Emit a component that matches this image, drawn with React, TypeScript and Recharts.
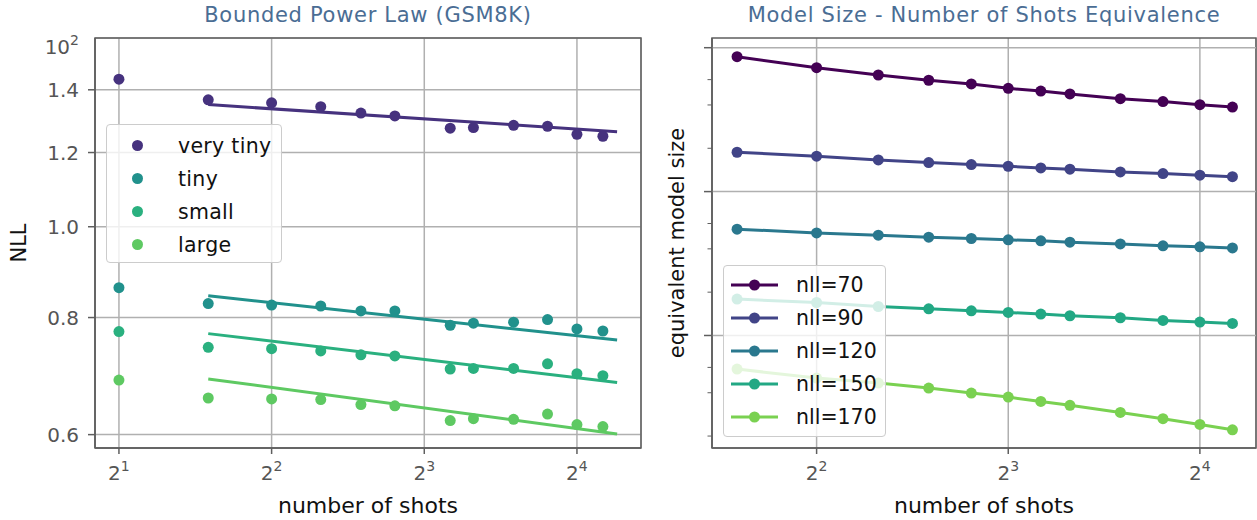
import React from 'react';
import {
  ComposedChart, Scatter, Line, XAxis, YAxis, CartesianGrid, ReferenceArea, ReferenceLine, Legend, Label,
} from 'recharts';

const FONT = '"DejaVu Sans", sans-serif';

// ---- left panel: bounded power law fit on GSM8K ----
const leftShots = [2, 3, 4, 5, 6, 7, 9, 10, 12, 14, 16, 18];
const veryTinyNll = [1.437, 1.366, 1.356, 1.343, 1.322, 1.313, 1.274, 1.276, 1.283, 1.28, 1.255, 1.249];
const tinyNll = [0.861, 0.828, 0.825, 0.823, 0.813, 0.813, 0.785, 0.789, 0.791, 0.796, 0.778, 0.774];
const smallNll = [0.773, 0.7435, 0.741, 0.737, 0.73, 0.728, 0.705, 0.706, 0.706, 0.714, 0.697, 0.6935];
const largeNll = [0.686, 0.6565, 0.655, 0.654, 0.646, 0.644, 0.621, 0.624, 0.623, 0.631, 0.615, 0.612];

const fitShots = [3, 19.2];
const veryTinyFit = [1.35, 1.263];
const tinyFit = [0.844, 0.757];
const smallFit = [0.769, 0.682];
const largeFit = [0.688, 0.601];

const leftNames = ['very tiny', 'tiny', 'small', 'large'];
const leftColors = ['#46327e', '#21918c', '#2ab07f', '#5ec962'];
const leftXTicks = [2, 4, 8, 16];
const leftYTicks = [0.6, 0.8, 1.0, 1.2, 1.4];

// ---- right panel: model size / shots equivalence ----
const rightShots = [3, 4, 5, 6, 7, 8, 9, 10, 12, 14, 16, 18];
const nll70 = [8.66e8, 7.26e8, 6.46e8, 5.94e8, 5.6e8, 5.22e8, 5.0e8, 4.77e8, 4.42e8, 4.22e8, 4.02e8, 3.87e8];
const nll90 = [1.877e8, 1.761e8, 1.66e8, 1.59e8, 1.54e8, 1.5e8, 1.461e8, 1.431e8, 1.37e8, 1.334e8, 1.3e8, 1.27e8];
const nll120 = [5.48e7, 5.16e7, 4.98e7, 4.82e7, 4.72e7, 4.62e7, 4.55e7, 4.45e7, 4.33e7, 4.2e7, 4.13e7, 4.06e7];
const nll150 = [1.79e7, 1.695e7, 1.59e7, 1.532e7, 1.484e7, 1.445e7, 1.408e7, 1.371e7, 1.328e7, 1.272e7, 1.239e7, 1.212e7];
const nll170 = [5.84e6, 5.06e6, 4.67e6, 4.31e6, 3.98e6, 3.73e6, 3.48e6, 3.27e6, 2.92e6, 2.64e6, 2.41e6, 2.21e6];

const rightNames = ['nll=70', 'nll=90', 'nll=120', 'nll=150', 'nll=170'];
const rightColors = ['#440154', '#414487', '#2a788e', '#22a884', '#7ad151'];
const rightXTicks = [4, 8, 16];
const rightMajorTicks = [1e7, 1e8, 1e9];
const rightMinorTicks = [
  2e6, 3e6, 4e6, 5e6, 6e6, 7e6, 8e6, 9e6,
  2e7, 3e7, 4e7, 5e7, 6e7, 7e7, 8e7, 9e7,
  2e8, 3e8, 4e8, 5e8, 6e8, 7e8, 8e8, 9e8,
];

const toPoints = (xs: number[], ys: number[]) => xs.map((x, i) => ({ x, y: ys[i] }));

const leftSeries = [veryTinyNll, tinyNll, smallNll, largeNll].map((ys, i) => ({
  name: leftNames[i],
  color: leftColors[i],
  points: toPoints(leftShots, ys),
  fit: toPoints(fitShots, [veryTinyFit, tinyFit, smallFit, largeFit][i]),
}));

const rightSeries = [nll70, nll90, nll120, nll150, nll170].map((ys, i) => ({
  name: rightNames[i],
  color: rightColors[i],
  points: toPoints(rightShots, ys),
}));

const GRID = '#b0b0b0';
const SPINE = '#5f5f5f';
const TICK_TEXT = '#555555';

const PowTick = ({ x, y, payload }: any) => {
  const k = Math.round(Math.log2(payload.value));
  return (
    <text x={x} y={y} dy={24} textAnchor="middle" fill={TICK_TEXT} fontSize={20} fontFamily={FONT}>
      <tspan>2</tspan>
      <tspan dy={-9} fontSize={14}>{k}</tspan>
    </text>
  );
};

const RightYTick = ({ y, payload }: any) => {
  const major = rightMajorTicks.includes(payload.value);
  return (
    <line x1={62 - (major ? 8 : 4.5)} x2={62} y1={y} y2={y} stroke={SPINE} strokeWidth={major ? 1.5 : 1} />
  );
};

const LeftLegend = () => (
  <div style={{
    background: 'rgba(255,255,255,0.8)', border: '1px solid #cccccc', borderRadius: 4,
    width: 176, height: 139, paddingTop: 4, boxSizing: 'border-box', fontFamily: FONT,
  }}>
    {leftSeries.map((s) => (
      <div key={s.name} style={{ display: 'flex', alignItems: 'center', height: 33 }}>
        <span style={{ width: 11, height: 11, borderRadius: '50%', background: s.color, marginLeft: 25 }} />
        <span style={{ marginLeft: 35, fontSize: 20.5, color: '#111', letterSpacing: 0.3 }}>{s.name}</span>
      </div>
    ))}
  </div>
);

const RightLegend = () => (
  <div style={{
    background: 'rgba(255,255,255,0.8)', border: '1px solid #cccccc', borderRadius: 4,
    width: 163, height: 172, paddingTop: 2, boxSizing: 'border-box', fontFamily: FONT,
  }}>
    {rightSeries.map((s) => (
      <div key={s.name} style={{ display: 'flex', alignItems: 'center', height: 33 }}>
        <svg width={47} height={14} style={{ marginLeft: 7 }}>
          <line x1={0} x2={47} y1={7} y2={7} stroke={s.color} strokeWidth={3} />
          <circle cx={23.5} cy={7} r={5.5} fill={s.color} />
        </svg>
        <span style={{ marginLeft: 18, fontSize: 20.5, color: '#111' }}>{s.name}</span>
      </div>
    ))}
  </div>
);

const titleStyle = (left: number, width: number): React.CSSProperties => ({
  position: 'absolute', left, width, top: 3, textAlign: 'center', fontSize: 21,
  color: '#4a6d94', fontFamily: FONT, letterSpacing: 0.7,
});

const axisTitle = (text: string, dy: number) => ({ viewBox }: any) => (
  <text x={viewBox.x + viewBox.width / 2} y={viewBox.y + dy} textAnchor="middle"
    fontSize={22} fontFamily={FONT} fill="#111">{text}</text>
);

const yTitle = (text: string, x: number) => ({ viewBox }: any) => {
  const cy = viewBox.y + viewBox.height / 2;
  return (
    <text x={x} y={cy} transform={`rotate(-90 ${x} ${cy})`} textAnchor="middle" dominantBaseline="central"
      fontSize={21} fontFamily={FONT} fill="#111">{text}</text>
  );
};

export default function App() {
  const leftX: [number, number] = [1.794, 21.4];
  const leftY: [number, number] = [0.5806, 1.59];
  const rightX: [number, number] = [2.74, 19.6];
  const rightY: [number, number] = [1.652e6, 1.168e9];

  return (
    <div style={{ position: 'absolute', left: 0, top: 0, width: 1257, height: 520, background: '#fff', fontFamily: FONT }}>
      <div style={titleStyle(95, 546)}>Bounded Power Law (GSM8K)</div>
      <div style={titleStyle(712, 544)}>Model Size - Number of Shots Equivalence</div>

      <div style={{ position: 'absolute', left: 0, top: 0 }}>
        <ComposedChart width={650} height={520} margin={{ top: 38, right: 9, bottom: 0, left: 0 }}>
          <CartesianGrid stroke={GRID} strokeWidth={1.5} />
          <XAxis dataKey="x" type="number" scale="log" domain={leftX} allowDataOverflow ticks={leftXTicks}
            height={72} tick={<PowTick />} tickSize={6} tickMargin={2} stroke={SPINE} strokeWidth={1.5}>
            <Label content={axisTitle('number of shots', 65)} />
          </XAxis>
          <YAxis dataKey="y" type="number" scale="log" domain={leftY} allowDataOverflow ticks={leftYTicks}
            width={95} tickSize={7} tickMargin={9} stroke={SPINE} strokeWidth={1.5}
            tick={{ fill: TICK_TEXT, fontSize: 20, fontFamily: FONT }} tickFormatter={(v: number) => v.toFixed(1)}>
            <Label content={yTitle('NLL', 19)} />
            <Label content={() => (
              <text x={79} y={54} textAnchor="end" fill={TICK_TEXT} fontSize={20} fontFamily={FONT}>
                <tspan>10</tspan><tspan dy={-9} fontSize={14}>2</tspan>
              </text>
            )} />
          </YAxis>
          <ReferenceArea x1={leftX[0]} x2={leftX[1]} y1={leftY[0]} y2={leftY[1]} fill="none"
            stroke={SPINE} strokeWidth={1.5} ifOverflow="visible" />
          {leftSeries.map((s) => (
            <Scatter key={s.name} name={s.name} data={s.points} fill={s.color} isAnimationActive={false}
              shape={(p: any) => <circle cx={p.cx} cy={p.cy} r={5.5} fill={s.color} />} />
          ))}
          {leftSeries.map((s) => (
            <Line key={s.name + '-fit'} data={s.fit} dataKey="y" stroke={s.color} strokeWidth={3}
              dot={false} legendType="none" isAnimationActive={false} />
          ))}
          <Legend layout="horizontal" verticalAlign="middle" content={<LeftLegend />}
            wrapperStyle={{ left: 106, top: 124, width: 'auto', height: 'auto' }} />
        </ComposedChart>
      </div>

      <div style={{ position: 'absolute', left: 650, top: 0 }}>
        <ComposedChart width={607} height={520} margin={{ top: 38, right: 1, bottom: 0, left: 0 }}>
          <CartesianGrid stroke={GRID} strokeWidth={1.5} horizontal={false} />
          {rightMajorTicks.map((v) => (
            <ReferenceLine key={v} y={v} stroke={GRID} strokeWidth={1.5} />
          ))}
          <XAxis dataKey="x" type="number" scale="log" domain={rightX} allowDataOverflow ticks={rightXTicks}
            height={72} tick={<PowTick />} tickSize={6} tickMargin={2} stroke={SPINE} strokeWidth={1.5}>
            <Label content={axisTitle('number of shots', 65)} />
          </XAxis>
          <YAxis dataKey="y" type="number" scale="log" domain={rightY} allowDataOverflow
            ticks={[...rightMinorTicks, ...rightMajorTicks].sort((a, b) => a - b)}
            width={62} tickLine={false} tickSize={0} tick={<RightYTick />} stroke={SPINE} strokeWidth={1.5}>
            <Label content={yTitle('equivalent model size', 27)} />
          </YAxis>
          <ReferenceArea x1={rightX[0]} x2={rightX[1]} y1={rightY[0]} y2={rightY[1]} fill="none"
            stroke={SPINE} strokeWidth={1.5} ifOverflow="visible" />
          {rightSeries.map((s) => (
            <Line key={s.name} name={s.name} data={s.points} dataKey="y" stroke={s.color} strokeWidth={3}
              dot={{ r: 5.5, fill: s.color, stroke: s.color, strokeWidth: 0 }} isAnimationActive={false} />
          ))}
          <Legend layout="horizontal" verticalAlign="middle" content={<RightLegend />}
            wrapperStyle={{ left: 73, top: 265, width: 'auto', height: 'auto' }} />
        </ComposedChart>
      </div>
    </div>
  );
}
